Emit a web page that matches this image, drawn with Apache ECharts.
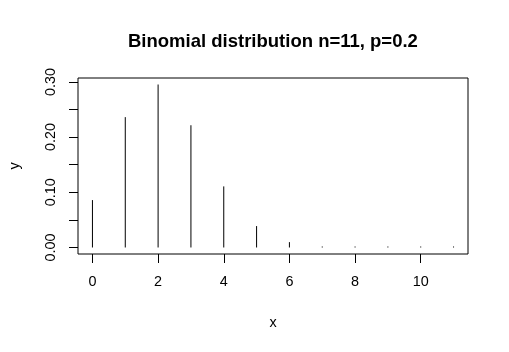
<!DOCTYPE html>
<html><head><meta charset="utf-8">
<script src="https://cdn.jsdelivr.net/npm/echarts@6/dist/echarts.min.js"></script>
<style>html,body{margin:0;padding:0;background:#fff}#c{width:509px;height:352px}</style>
</head><body><div id="c"></div>
<script>
const xs = [0,1,2,3,4,5,6,7,8,9,10,11];
const ys = [0.0859,0.2362,0.2953,0.2215,0.1107,0.0388,0.0097,0.0017,0.0002,0.00002,0.000001,0.00000002];
const xTicks = [0,2,4,6,8,10];
const yTicks = [0,0.05,0.10,0.15,0.20,0.25,0.30];
const yLabels = [0,0.10,0.20,0.30];
const F = 'Liberation Sans, Arial, sans-serif';
const chart = echarts.init(document.getElementById('c'), null, {renderer:'canvas'});
chart.setOption({
  animation:false,
  backgroundColor:'#fff',
  title:{text:'Binomial distribution n=11, p=0.2', left:123, top:27,
    textStyle:{fontFamily:F, fontSize:18.5, fontWeight:'bold', color:'#000'}},
  grid:{left:78,right:41,top:78,bottom:98,show:true,borderColor:'#000',borderWidth:1,backgroundColor:'transparent'},
  xAxis:{type:'value',min:-0.44,max:11.44,
    name:'x',nameLocation:'middle',nameGap:62,nameTextStyle:{fontFamily:F,fontSize:14.4,color:'#000'},
    axisLine:{show:false,onZero:false},splitLine:{show:false},
    axisTick:{show:true,inside:false,length:9,lineStyle:{color:'#000',width:1},customValues:xTicks},
    axisLabel:{fontFamily:F,fontSize:14.4,color:'#000',margin:21,customValues:xTicks,formatter:v=>String(v)}},
  yAxis:{type:'value',min:-0.0118,max:0.3071,
    name:'y',nameLocation:'middle',nameGap:56,nameTextStyle:{fontFamily:F,fontSize:14.4,color:'#000'},
    axisLine:{show:false,onZero:false},splitLine:{show:false},
    axisTick:{show:true,inside:false,length:9,lineStyle:{color:'#000',width:1},customValues:yTicks},
    axisLabel:{fontFamily:F,fontSize:14.4,color:'#000',margin:20,rotate:90,customValues:yLabels,formatter:v=>v.toFixed(2)}},
  series:[{type:'custom',
    data:xs.map((x,i)=>[x,ys[i]]),
    renderItem:(params,api)=>{
      const p0=api.coord([api.value(0),0]);
      const p1=api.coord([api.value(0),api.value(1)]);
      const top=Math.min(p1[1],p0[1]-1);
      return {type:'line',shape:{x1:p0[0],y1:p0[1],x2:p1[0],y2:top},style:{stroke:'#000',lineWidth:1}};
    }}]
});
</script></body></html>
